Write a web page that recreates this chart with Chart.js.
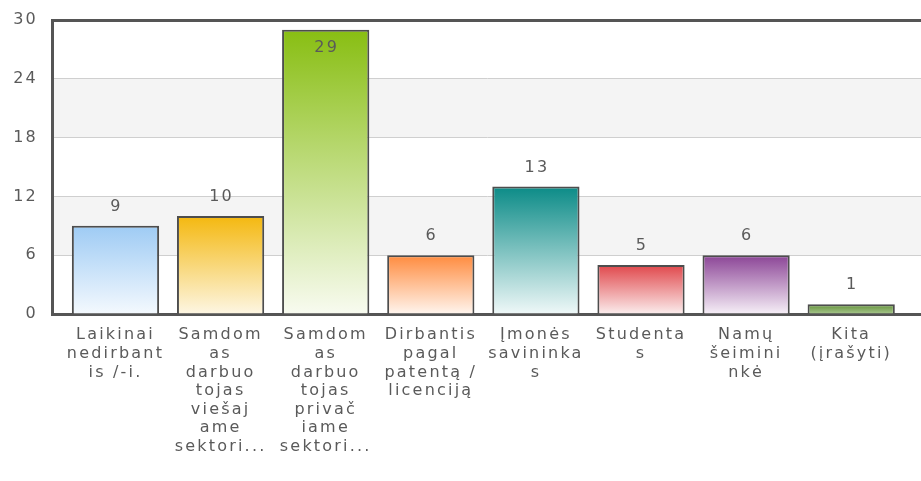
<!DOCTYPE html>
<html>
<head>
<meta charset="utf-8">
<script src="https://cdn.jsdelivr.net/npm/chart.js@4/dist/chart.umd.min.js"></script>
<style>
html,body{margin:0;padding:0;background:#fff;}
#wrap{width:921px;height:481px;position:relative;}
</style>
</head>
<body>
<div id="wrap"><canvas id="c" width="921" height="481"></canvas></div>
<script>
const categories = [
  ["Laikinai","nedirbant","is /-i."],
  ["Samdom","as","darbuo","tojas","viešaj","ame","sektori..."],
  ["Samdom","as","darbuo","tojas","privač","iame","sektori..."],
  ["Dirbantis","pagal","patentą /","licenciją"],
  ["Įmonės","savininka","s"],
  ["Studenta","s"],
  ["Namų","šeimini","nkė"],
  ["Kita","(įrašyti)"]
];
const values = [9, 10, 29, 6, 13, 5, 6, 1];
const topColors = ["#9ecbf4", "#f4b80f", "#88be12", "#ff8b3e", "#0b8b87", "#e0474b", "#8b4496", "#5f8f35"];
const bottomColors = ["#f4f9fe", "#fdf6e3", "#f8fbf0", "#fff5ee", "#eff8f8", "#fbeded", "#f6eff7", "#a9c78f"];
const yTicks = [0, 6, 12, 18, 24, 30];

const FONT = "'DejaVu Sans', Verdana, sans-serif";
const TXT = "#5a5a5a";
const AXIS = "#555555";
const SPACING = '2.2px';

const spacingPlugin = {
  id: 'spacing',
  beforeInit(chart) { chart.ctx.letterSpacing = SPACING; },
  beforeUpdate(chart) { chart.ctx.letterSpacing = SPACING; },
  beforeDraw(chart) { chart.ctx.letterSpacing = SPACING; }
};

const bandPlugin = {
  id: 'bands',
  beforeDraw(chart) {
    const {ctx, chartArea, scales} = chart;
    const y = scales.y;
    ctx.save();
    ctx.fillStyle = '#f4f4f4';
    [[6,12],[18,24]].forEach(([a,b]) => {
      const y1 = y.getPixelForValue(b), y2 = y.getPixelForValue(a);
      ctx.fillRect(chartArea.left, y1, chartArea.right - chartArea.left, y2 - y1);
    });
    ctx.restore();
  }
};

const labelPlugin = {
  id: 'valLabels',
  afterDatasetsDraw(chart) {
    const {ctx, chartArea} = chart;
    const meta = chart.getDatasetMeta(0);
    ctx.save();
    ctx.letterSpacing = SPACING;
    ctx.font = "16px " + FONT;
    ctx.fillStyle = TXT;
    ctx.textAlign = 'center';
    ctx.textBaseline = 'middle';
    meta.data.forEach((bar, i) => {
      let ty = bar.y - 19;
      if (ty < chartArea.top + 8) ty = bar.y + 18;
      ctx.fillText(String(values[i]), bar.x + 1, ty);
    });
    ctx.restore();
  }
};

const data = values.map((v, i) => ({x: i, y: v}));

new Chart(document.getElementById('c'), {
  type: 'bar',
  data: {
    datasets: [{
      data: data,
      backgroundColor(ctx) {
        const chart = ctx.chart;
        const i = ctx.dataIndex;
        if (!chart.chartArea || i === undefined) return topColors[i || 0];
        const ys = chart.scales.y;
        const t = ys.getPixelForValue(values[i]);
        const b = ys.getPixelForValue(0);
        const g = chart.ctx.createLinearGradient(0, t, 0, b);
        g.addColorStop(0, topColors[i]);
        g.addColorStop(1, bottomColors[i]);
        return g;
      },
      borderColor: '#4d4d4d',
      borderWidth: 2,
      borderSkipped: 'start',
      categoryPercentage: 1,
      barPercentage: 0.83
    }]
  },
  options: {
    responsive: false,
    animation: false,
    devicePixelRatio: 1,
    layout: { padding: { top: 20, right: 0, left: 0, bottom: 0 } },
    plugins: { legend: { display: false }, tooltip: { enabled: false } },
    scales: {
      x: {
        type: 'linear',
        offset: false,
        min: -0.604,
        max: 7.664,
        afterBuildTicks(scale) {
          scale.ticks = categories.map((_, i) => ({ value: i }));
        },
        afterFit(scale) { scale.height = 167; scale.paddingLeft = 0; scale.paddingRight = 0; },
        grid: { display: false, drawTicks: false },
        border: { color: AXIS, width: 3 },
        ticks: {
          autoSkip: false,
          maxRotation: 0,
          padding: 12,
          color: TXT,
          font: { family: FONT, size: 16, lineHeight: 1.16 },
          callback(v) { return categories[v]; }
        }
      },
      y: {
        min: 0,
        max: 30,
        afterBuildTicks(scale) {
          scale.ticks = yTicks.map(v => ({ value: v }));
        },
        afterFit(scale) { scale.width = 52; scale.paddingTop = 0; scale.paddingBottom = 0; },
        grid: {
          drawTicks: false,
          color(ctx) { return ctx.tick && ctx.tick.value === 30 ? AXIS : '#cfcfcf'; },
          lineWidth(ctx) { return ctx.tick && ctx.tick.value === 30 ? 3 : 1; }
        },
        border: { color: AXIS, width: 3 },
        ticks: {
          padding: 14,
          color: TXT,
          font: { family: FONT, size: 16 }
        }
      }
    }
  },
  plugins: [spacingPlugin, bandPlugin, labelPlugin]
});
</script>
</body>
</html>
